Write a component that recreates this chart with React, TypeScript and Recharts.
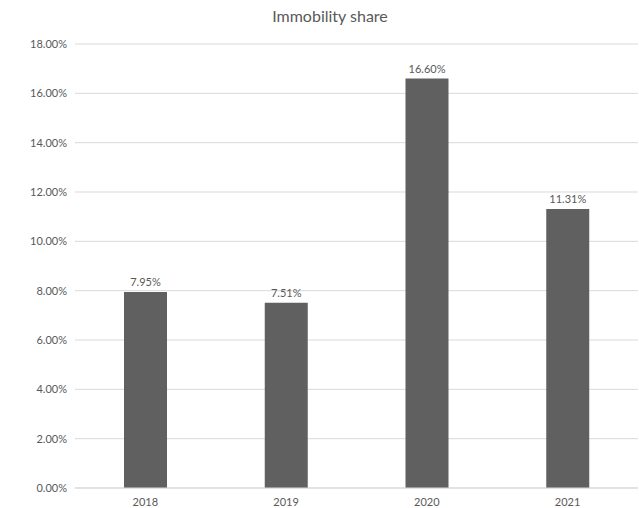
import { Bar, BarChart, CartesianGrid, LabelList, XAxis, YAxis } from "recharts"

const years = ["2018", "2019", "2020", "2021"]
const shares = [7.95, 7.51, 16.6, 11.31]
const yTicks = [0, 2, 4, 6, 8, 10, 12, 14, 16, 18]

const data = years.map((year, i) => ({ year, share: shares[i] }))

const font = "'Lato', 'Noto Sans', sans-serif"
const textColor = "#595959"

export default function App() {
  return (
    <div style={{ position: "absolute", left: 0, top: 0, width: 639, height: 508, background: "#fff", fontFamily: font }}>
      <div
        style={{
          position: "absolute",
          top: 6,
          left: 0,
          width: 660,
          textAlign: "center",
          fontSize: 16,
          color: textColor,
        }}
      >
        Immobility share
      </div>
      <BarChart width={639} height={508} data={data} margin={{ top: 44, right: 1, bottom: 0, left: 0 }}>
        <CartesianGrid vertical={false} stroke="#d9d9d9" />
        <XAxis
          dataKey="year"
          height={20}
          tickLine={false}
          tickMargin={4}
          axisLine={{ stroke: "#d9d9d9" }}
          tick={{ fill: textColor, fontSize: 11, fontFamily: font }}
        />
        <YAxis
          width={75}
          domain={[0, 18]}
          ticks={yTicks}
          tickLine={false}
          axisLine={false}
          tick={{ fill: textColor, fontSize: 11, fontFamily: font }}
          tickFormatter={(v) => `${v.toFixed(2)}%`}
        />
        <Bar dataKey="share" fill="#606060" barSize={43} isAnimationActive={false}>
          <LabelList
            dataKey="share"
            position="top"
            offset={6}
            fill={textColor}
            fontSize={11}
            fontFamily={font}
            formatter={(v: number) => `${v.toFixed(2)}%`}
          />
        </Bar>
      </BarChart>
    </div>
  )
}
